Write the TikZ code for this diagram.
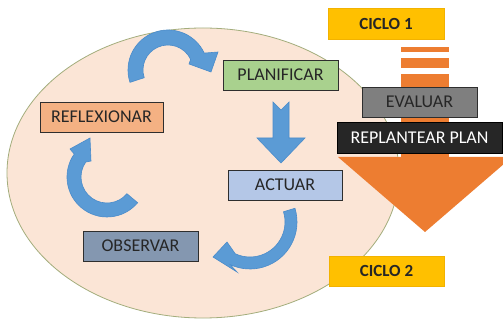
\documentclass[tikz,border=0pt]{standalone}
\usepackage{fontspec}
\setmainfont{Carlito}
\definecolor{peach}{HTML}{FBE5D6}
\definecolor{rimgreen}{HTML}{A3AD7C}
\definecolor{orangearrow}{HTML}{ED7D31}
\definecolor{arrowblue}{HTML}{5B9BD5}
\definecolor{arrowedge}{HTML}{4A8CCB}
\definecolor{boxline}{HTML}{2E2E2E}
\definecolor{textdark}{HTML}{262626}
\definecolor{planfill}{HTML}{A9D18E}
\definecolor{reflfill}{HTML}{F4B183}
\definecolor{actfill}{HTML}{B4C7E7}
\definecolor{obsfill}{HTML}{8497B0}
\definecolor{evalfill}{HTML}{7F7F7F}
\definecolor{replfill}{HTML}{262626}
\definecolor{cicloyellow}{HTML}{FFC000}
\definecolor{cicloedge}{HTML}{F2B200}
\begin{document}
\begin{tikzpicture}[x=1pt,y=-1pt,
  box/.style={draw=boxline,line width=0.9pt,inner sep=0pt,minimum height=30pt,
    text=textdark,font=\fontsize{18}{20}\selectfont},
  tag/.style={fill=cicloyellow,draw=cicloedge,line width=0.5pt,inner sep=0pt,
    minimum width=116pt,minimum height=31pt,text=textdark,
    font=\bfseries\fontsize{17}{20}\selectfont},
  bluearrow/.style={fill=arrowblue,draw=arrowedge,line width=0.6pt,line join=miter},
  orangepart/.style={fill=orangearrow},
]
\useasboundingbox (0,0) rectangle (503,320);
\clip (0,0) rectangle (503,320);
\fill[white] (0,0) rectangle (503,320);

% cycle background
\filldraw[fill=peach,draw=rimgreen,line width=0.8pt] (203,173) ellipse[x radius=196,y radius=145];

% big orange arrow: striped shaft and head
\fill[orangepart] (401,47) rectangle (449,52);
\fill[orangepart] (401,58) rectangle (449,68);
\fill[orangepart] (401,74) rectangle (449,158);
\fill[orangepart] (338,157) -- (512,157) -- (425,232) -- cycle;

% labels on the orange arrow
\node[box,fill=evalfill,minimum width=115pt,text=textdark] (evaluar) at (419.5,102) {EVALUAR};
\node[box,fill=replfill,draw=black,minimum width=165pt,minimum height=31pt,text=white] (replantear) at (419.5,137.5) {REPLANTEAR PLAN};

% cycle tags
\node[tag] (ciclo1) at (386,23.5) {CICLO 1};
\node[tag,minimum width=115pt,minimum height=30pt] (ciclo2) at (386.5,271) {CICLO 2};

% curved arrow: reflexionar -> planificar
\filldraw[bluearrow]
  ([shift={(168,70)}]162:40) arc[start angle=162,end angle=335,radius=40]
  -- (218,52) -- (211,72) -- (189,64)
  -- ([shift={(168,70)}]335:25) arc[start angle=335,end angle=162,radius=25] -- cycle;

% straight arrow: planificar -> actuar
\filldraw[bluearrow] (273,102) -- (281,110) -- (289,102) -- (289,138) -- (305,138)
  -- (281,163) -- (257,138) -- (273,138) -- cycle;

% curved arrow: actuar -> observar
\filldraw[bluearrow]
  ([shift={(250,222)}]-17:47) arc[start angle=-17,end angle=115,radius=47]
  -- (237,272) -- (213,257) -- (227,242)
  -- ([shift={(250,222)}]115:35) arc[start angle=115,end angle=-17,radius=35] -- cycle;

% curved arrow: observar -> reflexionar
\filldraw[bluearrow]
  ([shift={(107,177)}]40:40) arc[start angle=40,end angle=215,radius=40]
  -- (70,149) -- (90,138) -- (91,161)
  -- ([shift={(107,177)}]215:26) arc[start angle=215,end angle=40,radius=26] -- cycle;

% cycle stages
\node[box,fill=planfill,minimum width=115pt] (planificar) at (280.5,75) {PLANIFICAR};
\node[box,fill=reflfill,minimum width=123pt] (reflexionar) at (101.5,117) {REFLEXIONAR};
\node[box,fill=actfill,minimum width=114pt] (actuar) at (285,185) {ACTUAR};
\node[box,fill=obsfill,minimum width=115pt] (observar) at (140.5,246) {OBSERVAR};
\end{tikzpicture}
\end{document}
